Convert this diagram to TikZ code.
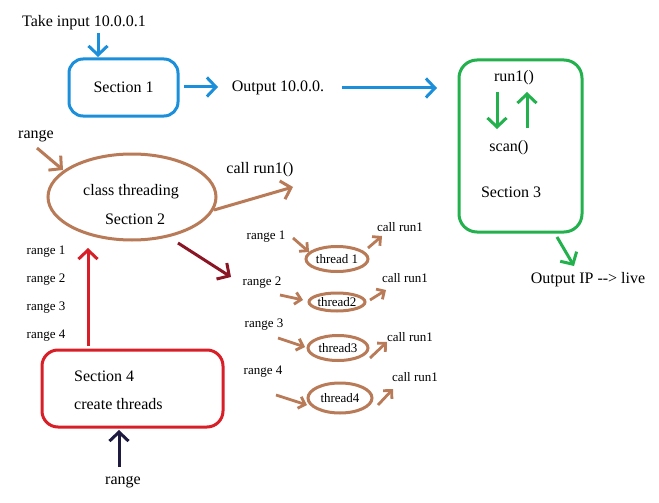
\documentclass[tikz,border=0pt]{standalone}
\usepackage{fontspec}
\setmainfont{Liberation Serif}
\usetikzlibrary{arrows.meta,shapes.geometric}
\definecolor{pblue}{HTML}{1C8FDA}
\definecolor{pgreen}{HTML}{22B14C}
\definecolor{pbrown}{HTML}{B97A57}
\definecolor{pred}{HTML}{D81E26}
\definecolor{pdred}{HTML}{8A1525}
\definecolor{pnavy}{HTML}{1E1A40}
\begin{document}
\begin{tikzpicture}[x=1pt,y=-1pt,
 big/.style={font=\fontsize{16}{18}\selectfont, inner sep=0pt},
 small/.style={font=\fontsize{13}{15}\selectfont, inner sep=0pt},
 arr/.style={line width=3pt, -{Straight Barb[length=9pt,width=19pt]}},
 sarr/.style={line width=2.8pt, -{Straight Barb[length=6pt,width=12pt]}},
 box/.style={draw, line width=3pt, rounded corners=14pt, inner sep=0pt},
 oval/.style={draw=pbrown, ellipse, line width=3pt, inner sep=0pt},
]
\useasboundingbox (0,0) rectangle (659,503);
\fill[white] (0,0) rectangle (659,503);

% Section 1
\node[big] (take) at (84,23) {Take input 10.0.0.1};
\node[box, draw=pblue, minimum width=109pt, minimum height=57pt, big] (s1) at (123.5,87.5) {Section 1\hspace{5pt}};
\node[big] (out1) at (278,88) {Output 10.0.0.};
\coordinate (a1s) at (98,33); \coordinate (a1e) at (98,57);
\draw[arr,pblue] (a1s) -- (a1e);
\coordinate (a2s) at (184,87); \coordinate (a2e) at (218,87);
\draw[arr,pblue] (a2s) -- (a2e);
\coordinate (a3s) at (342,88); \coordinate (a3e) at (437,88);
\draw[arr,pblue] (a3s) -- (a3e);

% Section 3
\node[box, draw=pgreen, rounded corners=18pt, minimum width=123pt, minimum height=172pt] (s3) at (520.5,146) {};
\node[big] (run1) at (514,78) {run1()};
\node[big] (scan) at (509,148) {scan()};
\node[big] (s3t) at (511,192) {Section 3};
\coordinate (g1s) at (497,92); \coordinate (g1e) at (497,129);
\draw[arr,pgreen] (g1s) -- (g1e);
\coordinate (g2s) at (527,128); \coordinate (g2e) at (527,92);
\draw[arr,pgreen] (g2s) -- (g2e);
\node[big] (outip) at (588,280) {Output IP -{}-> live};
\coordinate (g3s) at (557,237); \coordinate (g3e) at (574,266);
\draw[arr,pgreen] (g3s) -- (g3e);

% Section 2
\node[big] (rng) at (36,136) {range};
\node[oval, minimum width=168pt, minimum height=86pt] (s2) at (132,197) {};
\node[big] (cls) at (131,192) {class threading};
\node[big] (s2t) at (135,219) {Section 2};
\coordinate (b1s) at (37,148); \coordinate (b1e) at (63,170);
\draw[arr,pbrown] (b1s) -- (b1e);
\node[big] (callr) at (260,170) {call run1()};
\coordinate (b2s) at (214,210); \coordinate (b2e) at (293,187);
\draw[arr,pbrown] (b2s) -- (b2e);
\coordinate (d1s) at (178,243); \coordinate (d1e) at (231,277);
\draw[arr,pdred] (d1s) -- (d1e);

% range labels left
\node[small] (r1) at (46,252) {range 1};
\node[small] (r2) at (46,280) {range 2};
\node[small] (r3) at (46,308) {range 3};
\node[small] (r4) at (46,336) {range 4};

% Section 4
\node[box, draw=pred, rounded corners=16pt, minimum width=181pt, minimum height=77pt] (s4) at (132.5,388.5) {};
\node[big, anchor=west] (s4t) at (74,376) {Section 4};
\node[big, anchor=west] (s4c) at (74,404) {create threads};
\coordinate (rds) at (88,346); \coordinate (rde) at (88,248);
\draw[arr,pred] (rds) -- (rde);
\node[big] (rngb) at (123,482) {range};
\coordinate (nvs) at (119,467); \coordinate (nve) at (119,430);
\draw[arr,pnavy] (nvs) -- (nve);

% threads
\node[oval, minimum width=62pt, minimum height=25pt, small] (t1) at (337,259) {thread 1};
\node[oval, minimum width=56pt, minimum height=18pt, small] (t2) at (337,302) {thread2};
\node[oval, minimum width=60pt, minimum height=25pt, small] (t3) at (338,348) {thread3};
\node[oval, minimum width=64pt, minimum height=30pt, small] (t4) at (340,398) {thread4};

\node[small] (tr1) at (266,237) {range 1};
\node[small] (tr2) at (262,283) {range 2};
\node[small] (tr3) at (264,325) {range 3};
\node[small] (tr4) at (263,372) {range 4};

\node[small] (c1) at (400,227) {call run1};
\node[small] (c2) at (405,278) {call run1};
\node[small] (c3) at (410,337) {call run1};
\node[small] (c4) at (415,377) {call run1};

\coordinate (i1s) at (293,238); \coordinate (i1e) at (309,252);
\draw[sarr,pbrown] (i1s) -- (i1e);
\coordinate (i2s) at (280,295); \coordinate (i2e) at (303,300);
\draw[sarr,pbrown] (i2s) -- (i2e);
\coordinate (i3s) at (278,338); \coordinate (i3e) at (305,347);
\draw[sarr,pbrown] (i3s) -- (i3e);
\coordinate (i4s) at (276,395); \coordinate (i4e) at (307,405);
\draw[sarr,pbrown] (i4s) -- (i4e);

\coordinate (o1s) at (368,248); \coordinate (o1e) at (382,236);
\draw[sarr,pbrown] (o1s) -- (o1e);
\coordinate (o2s) at (370,300); \coordinate (o2e) at (386,290);
\draw[sarr,pbrown] (o2s) -- (o2e);
\coordinate (o3s) at (370,358); \coordinate (o3e) at (387,342);
\draw[sarr,pbrown] (o3s) -- (o3e);
\coordinate (o4s) at (378,405); \coordinate (o4e) at (393,389);
\draw[sarr,pbrown] (o4s) -- (o4e);
\end{tikzpicture}
\end{document}
